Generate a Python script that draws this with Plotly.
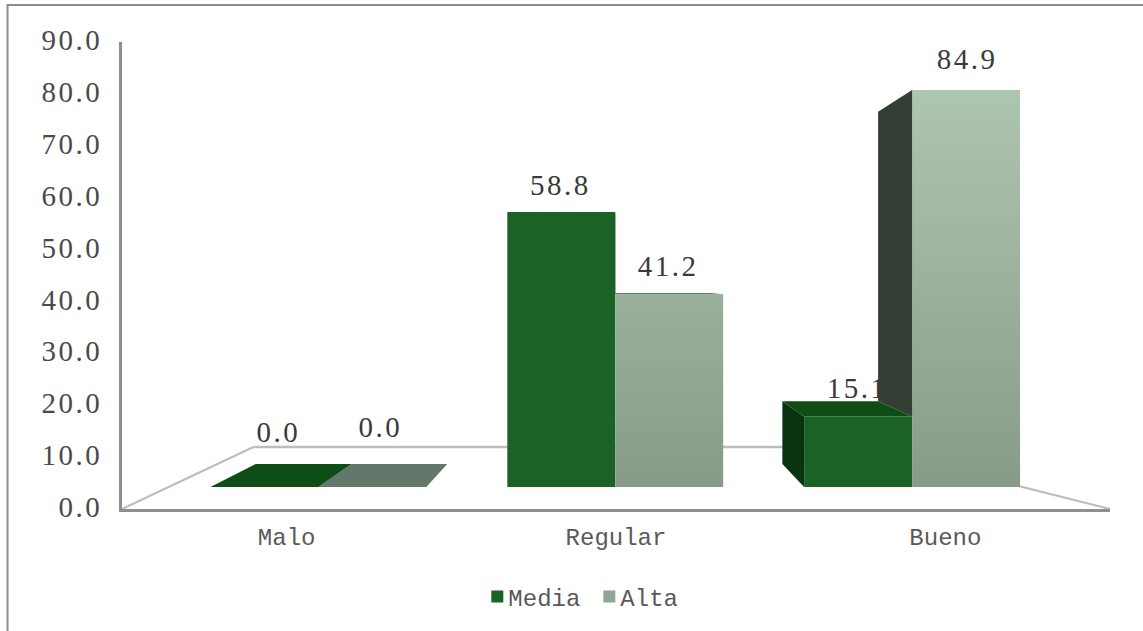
import plotly.graph_objects as go

# ---------- data ----------
categories = ["Malo", "Regular", "Bueno"]
media = [0.0, 58.8, 15.1]
alta = [0.0, 41.2, 84.9]
y_ticks = [0, 10, 20, 30, 40, 50, 60, 70, 80, 90]

# ---------- style / layout constants ----------
W, H = 1143, 631
L, R, T, B = 121.5, 1110, 42, 509    # outer frame, px
X0_PX, X_STEP = 318.0, 297.0         # inner (bar) plane: category 0 position, px per category
Y0_PX, Y_UNIT = 487.0, 4.676         # inner plane: value 0 position, px per unit
BAR_W = 108.0 / X_STEP
VANISH_X = (611 - X0_PX) / X_STEP
VANISH_Y = (Y0_PX - 283) / Y_UNIT
K = 0.113                            # depth of the bars towards the vanishing point

MEDIA_FRONT, MEDIA_TOP, MEDIA_SIDE = "#1b6227", "#0e4d15", "#0a3410"
ALTA_FRONT, ALTA_TOP, ALTA_SIDE = "#8fa690", "#62786a", "#333f35"
FLOOR = "#bdbdbd"
AXIS = "#8f8f8f"
SERIF = "Liberation Serif"
MONO = "Liberation Mono"

# label placement offsets from the top-centre of each bar (px right, px up)
MEDIA_LABEL_OFF = [(14, 52), (-1, 24), (-1, 26)]
ALTA_LABEL_OFF = [(8, 57), (-1, 26), (1, 28)]


def px_x(p):
    return (p - L) / (R - L)


def px_y(p):
    return (B - p) / (B - T)


def back(x, y):
    return x + K * (VANISH_X - x), y + K * (VANISH_Y - y)


def poly(points, color):
    d = "M" + " L".join(f"{a},{b}" for a, b in points) + " Z"
    return dict(type="path", path=d, xref="x", yref="y", fillcolor=color,
                line=dict(width=0), layer="above")


def faces(values, left_edges, top_color, side_color):
    out = []
    for i, v in enumerate(values):
        xl, xr = left_edges[i], left_edges[i] + BAR_W
        base = 0
        # the taller right-hand bar of a pair is hidden below the left-hand one
        if side_color == ALTA_SIDE:
            base = media[i]
        if v > 0 and xl > VANISH_X:
            out.append(poly([(xl, base), (xl, v), back(xl, v), back(xl, base)], side_color))
        if v < VANISH_Y:
            out.append(poly([(xl, v), (xr, v), back(xr, v), back(xl, v)], top_color))
    return out


idx = list(range(len(categories)))
media_left = [i - BAR_W for i in idx]
alta_left = [float(i) for i in idx]

y_range = [(Y0_PX - B) / Y_UNIT, (Y0_PX - T) / Y_UNIT]
x_range = [(L - X0_PX) / X_STEP, (R - X0_PX) / X_STEP]


def label_trace(values, lefts, offs):
    return go.Scatter(
        x=[lefts[i] + BAR_W / 2 + offs[i][0] / X_STEP for i in idx],
        y=[values[i] + offs[i][1] / Y_UNIT for i in idx],
        text=[f"{v:.1f}" for v in values],
        mode="text", textposition="middle center",
        textfont=dict(family=SERIF, size=29, color="#3a3a3a"),
        showlegend=False, hoverinfo="skip", cliponaxis=False,
    )


fig = go.Figure()
fig.add_trace(go.Bar(name="Media", x=idx, y=media, marker=dict(color=MEDIA_FRONT, line=dict(width=0))))
fig.add_trace(go.Bar(name="Alta", x=idx, y=alta, marker=dict(color=ALTA_FRONT, line=dict(width=0))))
fig.add_trace(label_trace(media, media_left, MEDIA_LABEL_OFF))
fig.add_trace(label_trace(alta, alta_left, ALTA_LABEL_OFF))
# carries the visible category/value axes of the outer frame
fig.add_trace(go.Scatter(x=categories, y=media, xaxis="x2", yaxis="y2", mode="none",
                         showlegend=False, hoverinfo="skip"))

shapes = [
    # only the top and left edges of the chart border fall inside the picture
    dict(type="rect", xref="paper", yref="paper", x0=px_x(7), x1=px_x(1160), y0=px_y(5), y1=px_y(650),
         line=dict(color="#8c8c8c", width=2), fillcolor="rgba(0,0,0,0)", layer="below"),
    dict(type="line", xref="paper", yref="paper", x0=px_x(L), y0=px_y(B), x1=px_x(253), y1=px_y(447),
         line=dict(color=FLOOR, width=2), layer="below"),
    dict(type="line", xref="paper", yref="paper", x0=px_x(253), y0=px_y(447), x1=px_x(863), y1=px_y(447),
         line=dict(color=FLOOR, width=2.5), layer="below"),
    dict(type="line", xref="paper", yref="paper", x0=px_x(R), y0=px_y(B), x1=px_x(863), y1=px_y(447),
         line=dict(color=FLOOR, width=2), layer="below"),
]
shapes += faces(alta, alta_left, ALTA_TOP, ALTA_SIDE)
shapes += faces(media, media_left, MEDIA_TOP, MEDIA_SIDE)

fig.update_layout(
    width=W, height=H, autosize=False,
    margin=dict(l=L, r=W - R, t=T, b=H - B, pad=0),
    paper_bgcolor="white", plot_bgcolor="rgba(0,0,0,0)",
    barmode="group", bargap=1 - 2 * BAR_W, bargroupgap=0,
    shapes=shapes,
    xaxis=dict(range=x_range, visible=False, fixedrange=True),
    yaxis=dict(range=y_range, visible=False, fixedrange=True),
    xaxis2=dict(overlaying="x", anchor="y2", side="bottom", type="category",
                categoryorder="array", categoryarray=categories, range=[-0.5, 2.5],
                showgrid=False, zeroline=False, showline=True, linecolor=AXIS, linewidth=3,
                ticks="", ticklabelstandoff=4,
                tickfont=dict(family=MONO, size=24, color="#595959")),
    yaxis2=dict(overlaying="y", anchor="x2", side="left", range=[0, 90],
                tickvals=y_ticks, tickformat=".1f",
                showgrid=False, zeroline=False, showline=True, linecolor=AXIS, linewidth=3,
                ticks="", ticklabelstandoff=11, ticklabelshift=-2,
                tickfont=dict(family=SERIF, size=29, color="#4a4a4a")),
    legend=dict(orientation="h", x=px_x(468), y=px_y(597), xanchor="left", yanchor="middle",
                entrywidth=67, entrywidthmode="pixels", bgcolor="rgba(0,0,0,0)",
                font=dict(family=MONO, size=24, color="#595959")),
)

post = """
document.body.style.margin = '0';
document.body.style.overflow = 'hidden';
var css = document.createElement('style');
css.textContent = '.y2tick text, .textpoint text {letter-spacing: 2.5px;}';
document.head.appendChild(css);
var svg = document.querySelector('svg.main-svg');
var ns = 'http://www.w3.org/2000/svg';
var defs = document.createElementNS(ns, 'defs');
var g = document.createElementNS(ns, 'linearGradient');
g.setAttribute('id', 'altaGrad');
g.setAttribute('gradientUnits', 'userSpaceOnUse');
g.setAttribute('x1', '0'); g.setAttribute('x2', '0');
g.setAttribute('y1', '48'); g.setAttribute('y2', '445');
[['0', '#adc6b0'], ['1', '#879b88']].forEach(function (s) {
  var st = document.createElementNS(ns, 'stop');
  st.setAttribute('offset', s[0]); st.setAttribute('stop-color', s[1]);
  g.appendChild(st);
});
defs.appendChild(g); svg.appendChild(defs);
document.querySelectorAll('.barlayer .trace:nth-child(2) .point path').forEach(function (p) {
  p.style.fill = 'url(#altaGrad)';
});
document.querySelectorAll('.legendsymbols').forEach(function (s) {
  s.setAttribute('transform', 'translate(9,0)');
});
"""

fig.write_html("out.html", post_script=post, config={"displayModeBar": False})
